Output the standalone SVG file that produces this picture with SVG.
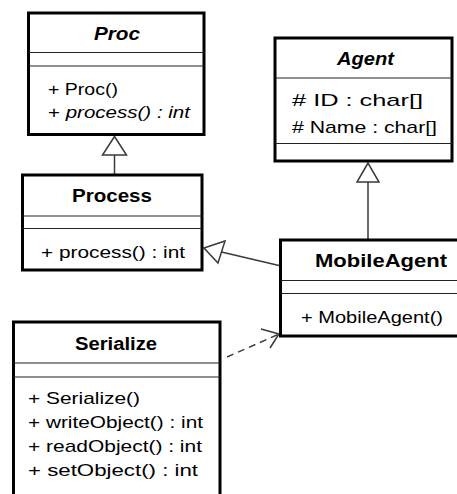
<svg xmlns="http://www.w3.org/2000/svg" width="457" height="494" viewBox="0 0 457 494">
<style>
.box{fill:#fff;stroke:#000;stroke-width:3}
.div{stroke:#222;stroke-width:1.2}
.name{font-family:"Liberation Sans",Arial,sans-serif;font-weight:bold;font-size:18px;fill:#000}
.item{font-family:"Liberation Sans",Arial,sans-serif;font-size:17px;fill:#000}
.it{font-style:italic}
.conn{stroke:#3a3a3a;stroke-width:1.5;fill:none}
.tri{stroke:#3a3a3a;stroke-width:1.5;fill:#fff}
.dash{stroke:#4a3838;stroke-width:1.5;fill:none;stroke-dasharray:7,5}
</style>
<rect width="457" height="494" fill="#fff"/>
<g id="connectors">
<line class="conn" x1="114.5" y1="155" x2="114.5" y2="174"/>
<polygon class="tri" points="114.5,136.5 102.5,155 126.5,155"/>
<line class="conn" x1="368" y1="182" x2="368" y2="239"/>
<polygon class="tri" points="368,163 357,182 379,182"/>
<line class="conn" x1="221.5" y1="252" x2="279" y2="265.5"/>
<polygon class="tri" points="204,248 225,241 218,263"/>
<line class="dash" x1="227" y1="357" x2="278" y2="334.5"/>
<polyline class="conn" points="261,329 279,334 270,348"/>
</g>
<g id="Proc">
<rect class="box" x="28.5" y="13" width="175.5" height="121.5"/>
<line class="div" x1="28.5" y1="52.5" x2="204" y2="52.5"/>
<line class="div" x1="28.5" y1="66" x2="204" y2="66"/>
<text class="name it" x="117" y="40" text-anchor="middle" textLength="46" lengthAdjust="spacingAndGlyphs">Proc</text>
<text class="item" x="48" y="95" textLength="70" lengthAdjust="spacingAndGlyphs">+ Proc()</text>
<text class="item" x="48" y="118" textLength="142" lengthAdjust="spacingAndGlyphs">+ <tspan class="it">process() : int</tspan></text>
</g>
<g id="Agent">
<rect class="box" x="275" y="38" width="177" height="123"/>
<line class="div" x1="275" y1="78" x2="452" y2="78"/>
<line class="div" x1="275" y1="143.5" x2="452" y2="143.5"/>
<text class="name it" x="365.5" y="65" text-anchor="middle" textLength="57" lengthAdjust="spacingAndGlyphs">Agent</text>
<text class="item" x="292" y="106" textLength="131" lengthAdjust="spacingAndGlyphs"># ID : char[]</text>
<text class="item" x="292" y="133" textLength="145" lengthAdjust="spacingAndGlyphs"># Name : char[]</text>
</g>
<g id="Process">
<rect class="box" x="22.5" y="175" width="179.5" height="95"/>
<line class="div" x1="22.5" y1="216" x2="202" y2="216"/>
<line class="div" x1="22.5" y1="228.5" x2="202" y2="228.5"/>
<text class="name" x="112" y="202" text-anchor="middle" textLength="80" lengthAdjust="spacingAndGlyphs">Process</text>
<text class="item" x="41" y="258" textLength="144" lengthAdjust="spacingAndGlyphs">+ process() : int</text>
</g>
<g id="MobileAgent">
<rect class="box" x="280.5" y="240" width="201" height="96"/>
<line class="div" x1="280.5" y1="280.5" x2="482" y2="280.5"/>
<line class="div" x1="280.5" y1="293.5" x2="482" y2="293.5"/>
<text class="name" x="381" y="267" text-anchor="middle" textLength="132" lengthAdjust="spacingAndGlyphs">MobileAgent</text>
<text class="item" x="301" y="323" textLength="142" lengthAdjust="spacingAndGlyphs">+ MobileAgent()</text>
</g>
<g id="Serialize">
<rect class="box" x="13.5" y="322" width="206.5" height="200"/>
<line class="div" x1="13.5" y1="363" x2="220" y2="363"/>
<line class="div" x1="13.5" y1="377" x2="220" y2="377"/>
<text class="name" x="116" y="350" text-anchor="middle" textLength="82" lengthAdjust="spacingAndGlyphs">Serialize</text>
<text class="item" x="28" y="404" textLength="112" lengthAdjust="spacingAndGlyphs">+ Serialize()</text>
<text class="item" x="28" y="428" textLength="175" lengthAdjust="spacingAndGlyphs">+ writeObject() : int</text>
<text class="item" x="28" y="452" textLength="174" lengthAdjust="spacingAndGlyphs">+ readObject() : int</text>
<text class="item" x="28" y="476" textLength="170" lengthAdjust="spacingAndGlyphs">+ setObject() : int</text>
</g>
</svg>
